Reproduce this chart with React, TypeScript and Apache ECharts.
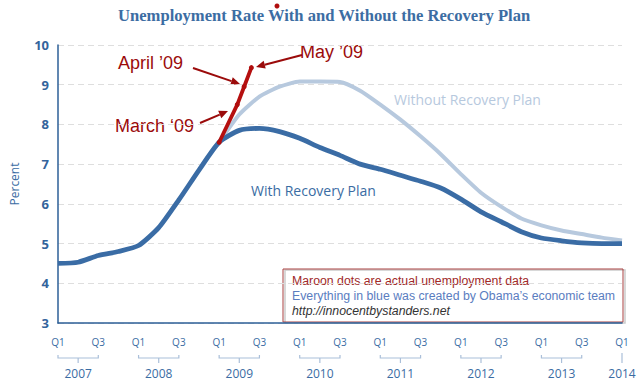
import React, { useEffect, useRef } from "react";
import * as echarts from "echarts";

// quarter index 0 = 2007 Q1 ... 28 = 2014 Q1
const quarterIdx: number[] = Array.from({ length: 29 }, (_, i) => i);
const withPlan: number[] = [
  4.5, 4.53, 4.7, 4.8, 4.95, 5.4, 6.1, 6.85, 7.55, 7.85, 7.9, 7.82, 7.65, 7.42,
  7.22, 7.0, 6.87, 6.72, 6.57, 6.4, 6.12, 5.8, 5.55, 5.3, 5.14, 5.07, 5.02, 5.0, 5.0,
];
const withoutPlan: (number | null)[] = [
  null, null, null, null, null, null, null, null, 7.55, 8.25, 8.7, 8.95, 9.08, 9.08,
  9.07, 8.85, 8.5, 8.12, 7.7, 7.25, 6.75, 6.28, 5.93, 5.63, 5.46, 5.33, 5.24, 5.15, 5.08,
];
// actual monthly data (x in quarter units)
const actualX: number[] = [8, 8.9, 9.24, 9.6];
const actualY: number[] = [7.55, 8.5, 8.95, 9.43];
const years: string[] = ["2007", "2008", "2009", "2010", "2011", "2012", "2013", "2014"];
const yearBrackets: number[][] = [
  [0, 2], [4, 6], [8, 10], [12, 14], [16, 18], [20, 22], [24, 26], [28, 28],
];

const BLUE = "#3a6ca3";
const LIGHT = "#b7c9de";
const MAROON = "#9b0b0b";

function arrow(x1: number, y1: number, x2: number, y2: number) {
  const ang = Math.atan2(y2 - y1, x2 - x1);
  const L = 9, W = 4;
  const bx = x2 - L * Math.cos(ang), by = y2 - L * Math.sin(ang);
  const px = -Math.sin(ang) * W, py = Math.cos(ang) * W;
  return [
    { type: "line", shape: { x1, y1, x2: bx, y2: by }, style: { stroke: MAROON, lineWidth: 2 }, silent: true },
    {
      type: "polygon",
      shape: { points: [[x2, y2], [bx + px, by + py], [bx - px, by - py]] },
      style: { fill: MAROON },
      silent: true,
    },
  ];
}

export default function App() {
  const ref = useRef<HTMLDivElement>(null);
  useEffect(() => {
    if (!ref.current) return;
    const chart = echarts.init(ref.current, undefined, { renderer: "svg" });
    const txt = (text: string, x: number, y: number, fill: string, size: number, extra: any = {}) => ({
      type: "text",
      x,
      y,
      silent: true,
      style: {
        text,
        fill,
        fontSize: size,
        fontFamily: "Liberation Sans, Arial, sans-serif",
        verticalAlign: "middle",
        ...extra,
      },
    });
    chart.setOption({
      animation: false,
      backgroundColor: "#ffffff",
      title: {
        text: "Unemployment Rate With and Without the Recovery Plan",
        left: 113,
        top: 2,
        textStyle: {
          fontFamily: "Liberation Serif, serif",
          fontWeight: "bold",
          fontSize: 16.6,
          color: "#3c6da3",
        },
      },
      grid: { left: 56, right: 18, top: 45, bottom: 67 },
      xAxis: [
        {
          type: "value",
          min: 0,
          max: 28,
          interval: 2,
          axisLine: { show: true, lineStyle: { color: "#2d5f97", width: 1.5 } },
          axisTick: { show: false },
          splitLine: { show: false },
          axisLabel: {
            margin: 14,
            fontSize: 10,
            color: BLUE,
            fontFamily: "Open Sans, sans-serif",
            formatter: (v: number) => (v % 4 === 0 ? "Q1" : "Q3"),
          },
        },
        {
          type: "value",
          min: 0,
          max: 28,
          interval: 1,
          position: "bottom",
          offset: 32,
          axisLine: { show: false },
          axisTick: { show: false },
          splitLine: { show: false },
          axisLabel: {
            margin: 12,
            fontSize: 12,
            color: BLUE,
            fontFamily: "Open Sans, sans-serif",
            formatter: (v: number) =>
              v === 28 ? years[7] : v % 4 === 1 ? years[(v - 1) / 4] : "",
          },
        },
      ],
      yAxis: {
        type: "value",
        min: 3,
        max: 10,
        interval: 1,
        name: "Percent",
        nameLocation: "middle",
        nameGap: 38,
        nameTextStyle: { color: BLUE, fontSize: 12, fontFamily: "Open Sans, sans-serif" },
        axisLine: { show: true, lineStyle: { color: "#2d5f97", width: 1.5 } },
        axisTick: { show: false },
        axisLabel: {
          margin: 9,
          fontSize: 13,
          fontWeight: "bold",
          color: "#33649c",
          fontFamily: "Open Sans, sans-serif",
        },
        splitLine: {
          show: true,
          lineStyle: { color: "#dedede", type: [6, 4], width: 1 },
        },
      },
      series: [
        {
          type: "line",
          name: "Without Recovery Plan",
          data: quarterIdx.map((q, i) => [q, withoutPlan[i]]),
          showSymbol: false,
          smooth: 0.2,
          lineStyle: { color: LIGHT, width: 4 },
          z: 2,
        },
        {
          type: "line",
          name: "With Recovery Plan",
          data: quarterIdx.map((q, i) => [q, withPlan[i]]),
          showSymbol: false,
          smooth: 0.2,
          lineStyle: { color: "#3a6ca5", width: 4.8 },
          z: 3,
        },
        {
          type: "line",
          name: "Actual",
          data: actualX.map((x, i) => [x, actualY[i]]),
          showSymbol: true,
          symbol: "circle",
          symbolSize: 5,
          itemStyle: { color: "#b00d0d" },
          lineStyle: { color: "#b50f0f", width: 3.8 },
          z: 5,
        },
        {
          type: "custom",
          name: "brackets",
          xAxisIndex: 0,
          yAxisIndex: 0,
          clip: false,
          silent: true,
          data: yearBrackets,
          renderItem: (params: any, api: any) => {
            const s = api.value(0);
            const e = api.value(1);
            const p1 = api.coord([s, 3]);
            const p2 = api.coord([e, 3]);
            const yb = p1[1] + 35;
            const st = { stroke: "#aabfd9", lineWidth: 1.2, fill: null };
            if (s === e) {
              return {
                type: "line",
                shape: { x1: p1[0], y1: yb - 5, x2: p1[0], y2: yb + 5 },
                style: st,
              };
            }
            const mid = (p1[0] + p2[0]) / 2;
            return {
              type: "group",
              children: [
                {
                  type: "polyline",
                  shape: { points: [[p1[0], yb - 3], [p1[0], yb], [p2[0], yb], [p2[0], yb - 3]] },
                  style: st,
                },
                { type: "line", shape: { x1: mid, y1: yb, x2: mid, y2: yb + 5 }, style: st },
              ],
            };
          },
        },
      ],
      graphic: [
        { type: "circle", shape: { cx: 277, cy: 6, r: 2.5 }, style: { fill: "#b00d0d" }, silent: true },
        txt("Without Recovery Plan", 394, 99, LIGHT, 14, { fontFamily: "Open Sans, sans-serif" }),
        txt("With Recovery Plan", 251, 190, "#3a6ca3", 14, { fontFamily: "Open Sans, sans-serif" }),
        txt("April \u201909", 118, 63, MAROON, 18),
        txt("May \u201909", 300, 52, MAROON, 18),
        txt("March \u201809", 115, 126, MAROON, 18),
        ...arrow(193, 68, 240, 84),
        ...arrow(302, 55, 256, 67),
        ...arrow(200, 123, 228, 111),
        {
          type: "rect",
          shape: { x: 285, y: 270, width: 340, height: 53 },
          style: { fill: "none", stroke: "#cccccc", lineWidth: 1.5 },
          silent: true,
        },
        {
          type: "rect",
          shape: { x: 283, y: 269, width: 340, height: 53 },
          style: { fill: "none", stroke: "#a84040", lineWidth: 1 },
          silent: true,
        },
        txt("Maroon dots are actual unemployment data", 292, 281, "#a02828", 12.3),
        txt("Everything in blue was created by Obama\u2019s economic team", 292, 296, "#5a7dbf", 12.3),
        txt("http://innocentbystanders.net", 292, 311, "#333333", 12.3, { fontStyle: "italic" }),
      ],
    });
    return () => chart.dispose();
  }, []);
  return (
    <div
      ref={ref}
      style={{ position: "fixed", left: 0, top: 0, width: 640, height: 390 }}
    />
  );
}
